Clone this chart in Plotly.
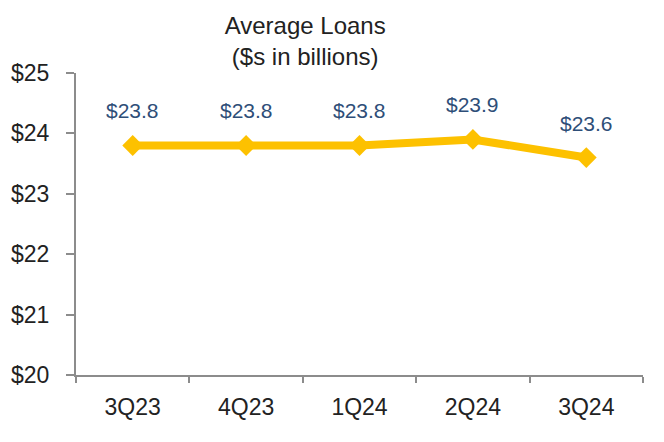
import plotly.graph_objects as go

quarters = ['3Q23', '4Q23', '1Q24', '2Q24', '3Q24']
avg_loans = [23.8, 23.8, 23.8, 23.9, 23.6]
y_ticks = [20, 21, 22, 23, 24, 25]
y_tick_labels = ['$' + str(v) for v in y_ticks]

gold = '#FDC100'
axis_grey = '#8C8C8C'

fig = go.Figure()

fig.add_trace(go.Scatter(
    x=quarters,
    y=avg_loans,
    mode='lines+markers',
    line=dict(color=gold, width=8),
    marker=dict(symbol='diamond', size=16, color=gold),
    showlegend=False))

# data labels sit a bit higher than plotly's textposition would put them
for q, v in zip(quarters, avg_loans):
    fig.add_annotation(x=q, y=v, text='$' + format(v, '.1f'),
                       showarrow=False, yanchor='bottom', yshift=21,
                       font=dict(color='#2E4E78', size=21))

fig.update_layout(
    width=656, height=434,
    margin=dict(l=68, r=21, t=65, b=67),
    paper_bgcolor='white',
    plot_bgcolor='white',
    font=dict(family='Liberation Sans', color='#222222'),
    title=dict(text='Average Loans<br>($s in billions)', x=0.453, xanchor='center',
               y=0.94, yanchor='top', font=dict(size=24, color='#222222')),
    xaxis=dict(
        type='category',
        range=[-0.5, len(quarters) - 0.5],
        tickson='boundaries',
        ticks='outside', ticklen=6, tickcolor=axis_grey, tickwidth=2,
        showline=True, linecolor=axis_grey, linewidth=2,
        showgrid=False, automargin=False,
        ticklabelstandoff=10,
        tickfont=dict(size=23),
    ),
    yaxis=dict(
        range=[20, 25],
        tickvals=y_ticks, ticktext=y_tick_labels,
        ticks='outside', ticklen=8, tickcolor=axis_grey, tickwidth=2,
        showline=True, linecolor=axis_grey, linewidth=2,
        showgrid=False, zeroline=False, automargin=False,
        ticklabelstandoff=12,
        tickfont=dict(size=23),
    ),
)

fig.write_html("out.html")
